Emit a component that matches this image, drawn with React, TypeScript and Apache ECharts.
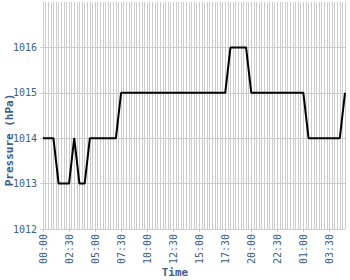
import React, { useEffect, useRef } from "react";
import * as echarts from "echarts";

// Time categories: every 15 minutes from 00:00 to 05:00 (next day)
const startHour = 0;
const stepMinutes = 15;
const pointCount = 117;
const times: string[] = [];
for (let i = 0; i < pointCount; i++) {
  const m = (startHour * 60 + i * stepMinutes) % (24 * 60);
  const hh = String(Math.floor(m / 60)).padStart(2, "0");
  const mm = String(m % 60).padStart(2, "0");
  times.push(`${hh}:${mm}`);
}

const pressure: number[] = [
  1014, 1014, 1014, 1014, 1014, 1013.5, 1013, 1013, 1013, 1013,
  1013, 1013.5, 1014, 1013.5, 1013, 1013, 1013, 1013.5, 1014, 1014,
  1014, 1014, 1014, 1014, 1014, 1014, 1014, 1014, 1014, 1014.5,
  1015, 1015, 1015, 1015, 1015, 1015, 1015, 1015, 1015, 1015,
  1015, 1015, 1015, 1015, 1015, 1015, 1015, 1015, 1015, 1015,
  1015, 1015, 1015, 1015, 1015, 1015, 1015, 1015, 1015, 1015,
  1015, 1015, 1015, 1015, 1015, 1015, 1015, 1015, 1015, 1015,
  1015, 1015.5, 1016, 1016, 1016, 1016, 1016, 1016, 1016, 1015.5,
  1015, 1015, 1015, 1015, 1015, 1015, 1015, 1015, 1015, 1015,
  1015, 1015, 1015, 1015, 1015, 1015, 1015, 1015, 1015, 1015,
  1015, 1014.5, 1014, 1014, 1014, 1014, 1014, 1014, 1014, 1014,
  1014, 1014, 1014, 1014, 1014, 1014.5, 1015,
];

const yMin = 1012;
const yMax = 1017;
const yInterval = 1;

const labelColor = "#40608a";
const gridColor = "#cccccc";
const mono = "'DejaVu Sans Mono', monospace";

export default function App() {
  const ref = useRef<HTMLDivElement>(null);
  useEffect(() => {
    if (!ref.current) return;
    const chart = echarts.init(ref.current, undefined, { renderer: "svg" });
    chart.setOption({
      animation: false,
      backgroundColor: "#ffffff",
      grid: { left: 43, top: 2, right: 5, bottom: 51, containLabel: false },
      xAxis: {
        type: "category",
        data: times,
        boundaryGap: false,
        axisLine: { show: true, lineStyle: { color: gridColor, width: 1 } },
        axisTick: { show: true, interval: 9, length: 3, lineStyle: { color: gridColor } },
        axisLabel: {
          interval: 9,
          rotate: 90,
          color: labelColor,
          fontFamily: mono,
          fontSize: 10,
          margin: 5,
        },
        splitLine: { show: true, interval: 0, lineStyle: { color: gridColor, width: 1 } },
      },
      yAxis: {
        type: "value",
        min: yMin,
        max: yMax,
        interval: yInterval,
        axisLine: { show: true, lineStyle: { color: gridColor, width: 1 } },
        axisTick: { show: true, length: 3, lineStyle: { color: gridColor } },
        axisLabel: {
          color: labelColor,
          fontFamily: mono,
          fontSize: 10,
          margin: 6,
          showMaxLabel: false,
          formatter: (v: number) => String(v),
        },
        splitLine: {
          show: true,
          lineStyle: {
            color: [gridColor, gridColor, gridColor, gridColor, gridColor, "rgba(0,0,0,0)"],
            width: 1,
          },
        },
      },
      graphic: [
        {
          type: "text",
          x: 9,
          y: 140,
          rotation: Math.PI / 2,
          style: {
            text: "Pressure (hPa)",
            fill: labelColor,
            font: `bold 11px ${mono}`,
            align: "center",
            verticalAlign: "middle",
          },
        },
        {
          type: "text",
          x: 175,
          y: 272,
          style: {
            text: "Time",
            fill: labelColor,
            font: `bold 11px ${mono}`,
            align: "center",
            verticalAlign: "middle",
          },
        },
      ],
      series: [
        {
          type: "line",
          data: pressure,
          showSymbol: false,
          symbol: "none",
          lineStyle: { color: "#000000", width: 2 },
        },
      ],
    });
    return () => chart.dispose();
  }, []);
  return (
    <div
      ref={ref}
      style={{ position: "fixed", left: 0, top: 0, width: 350, height: 280 }}
    />
  );
}
